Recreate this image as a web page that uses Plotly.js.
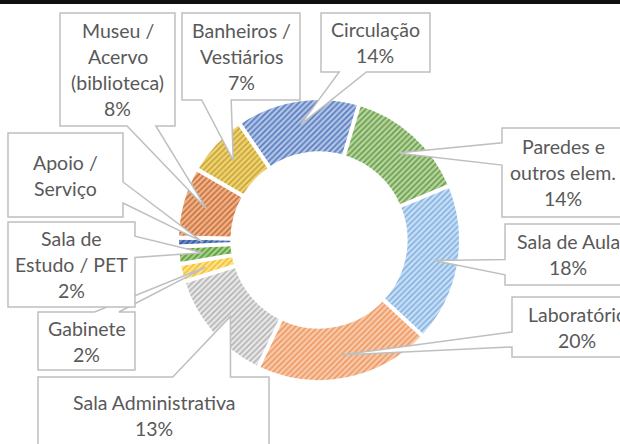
<!DOCTYPE html>
<html><head><meta charset="utf-8">
<script src="https://cdn.plot.ly/plotly-3.0.1.min.js"></script>
<style>html,body{margin:0;padding:0;background:#fff}#chart{width:620px;height:444px}</style>
</head><body><div id="chart"></div>
<script>
// ---- data ----
const categories = ["Circulação","Paredes e outros elem.","Sala de Aula","Laboratório","Sala Administrativa","Gabinete","Sala de Estudo / PET","Apoio / Serviço","Museu / Acervo (biblioteca)","Banheiros / Vestiários"];
const values = [14, 14, 18, 20, 13, 2, 2, 1, 8, 7];
const labelLines = [["Circulação"],["Paredes e","outros elem."],["Sala de Aula"],["Laboratório"],["Sala Administrativa"],["Gabinete"],["Sala de","Estudo / PET"],["Apoio /","Serviço"],["Museu /","Acervo","(biblioteca)"],["Banheiros /","Vestiários"]];
const showPercent = [true,true,true,true,true,true,true,false,true,true];

// ---- styles ----
const fillColors = ["#B4C7E7","#B7D7A0","#C9E0F6","#F9CBAE","#E9E9E9","#FFE38F","#A8D38C","#6F93CF","#F2B48C","#F0D576"];
const patternColors = ["#5A7DBF","#6E9E4E","#86B3E2","#EE9A62","#B5B5B5","#F2C230","#5E9A3A","#2F5597","#C9733E","#C9A536"];
// label boxes in pixels [left, top, right, bottom]
const boxes = [[321,13,430,72],[502,128,624,217],[505,224,631,285],[512,297,642,357],[38,377,269,453],[38,312,135,370],[8,222,135,307],[8,133,123,217],[60,13,175,126],[182,13,300,100]];
const W = 620, H = 444;
const cx = 319, cy = 240, R = 142, holeFrac = 0.61, rotation = -34.4;
const tipR = 117, lineH = 26;

const total = values.reduce((a,b)=>a+b,0);
const px = (x,y) => [(x/W).toFixed(5), (1 - y/H).toFixed(5)];

function calloutPath(b, tip){
  const [l,t,r,bm] = b; const w=r-l, h=bm-t, hc=(l+r)/2, vc=(t+bm)/2;
  const dx = tip[0]-hc, dy = tip[1]-vc;
  const dq = dx*h/w, dz = Math.abs(dy)-Math.abs(dq);
  const x1 = l + w*(dx>0?7:2)/12, x2 = l + w*(dx>0?10:5)/12;
  const y1 = t + h*(dy>0?7:2)/12, y2 = t + h*(dy>0?10:5)/12;
  let pts;
  if(dz>0){
    if(dy<0) pts=[[l,t],[x1,t],tip,[x2,t],[r,t],[r,bm],[l,bm]];
    else pts=[[l,t],[r,t],[r,bm],[x2,bm],tip,[x1,bm],[l,bm]];
  } else {
    if(dx>0) pts=[[l,t],[r,t],[r,y1],tip,[r,y2],[r,bm],[l,bm]];
    else pts=[[l,t],[r,t],[r,bm],[l,bm],[l,y2],tip,[l,y1]];
  }
  return 'M' + pts.map(p=>px(p[0],p[1]).join(',')).join(' L') + ' Z';
}

const shapes = [{type:'rect', xref:'paper', yref:'paper', x0:0, x1:1, y0:1-4/H, y1:1, fillcolor:'#111', line:{width:0}, layer:'above'}];
const annotations = [];
let acc = 0;
values.forEach((v,i)=>{
  const mid = (rotation + (acc + v/2)/total*360) * Math.PI/180;
  acc += v;
  const tip = [cx + tipR*Math.sin(mid), cy - tipR*Math.cos(mid)];
  const b = boxes[i];
  shapes.push({type:'path', xref:'paper', yref:'paper', path: calloutPath(b, tip), fillcolor:'#fff', line:{color:'#BFBFBF', width:1.5}, layer:'above'});
  const lines = labelLines[i].slice();
  if(showPercent[i]) lines.push(Math.round(v/total*100) + '%');
  const bc = (b[1]+b[3])/2, bx = (b[0]+b[2])/2;
  lines.forEach((s,k)=>{
    const y = bc + (k - (lines.length-1)/2)*lineH;
    annotations.push({xref:'paper', yref:'paper', x: bx/W, y: 1 - y/H, xanchor:'center', yanchor:'middle', text:s, showarrow:false, font:{family:'Lato, sans-serif', size:19.5, color:'#595959'}});
  });
});

const trace = {
  type:'pie', labels:categories, values:values, sort:false, direction:'clockwise', rotation:rotation,
  hole:holeFrac, textinfo:'none', hoverinfo:'none', showlegend:false,
  domain:{x:[(cx-R)/W,(cx+R)/W], y:[(H-cy-R)/H,(H-cy+R)/H]},
  marker:{colors:fillColors, line:{color:'#ffffff', width:4},
    pattern:{shape:'/', fgcolor:patternColors, bgcolor:fillColors, size:4, solidity:0.45}}
};

Plotly.newPlot('chart', [trace], {
  width:W, height:H, margin:{l:0,r:0,t:0,b:0}, paper_bgcolor:'#fff', plot_bgcolor:'#fff',
  shapes:shapes, annotations:annotations, showlegend:false
}, {staticPlot:true, displayModeBar:false});
</script></body></html>
